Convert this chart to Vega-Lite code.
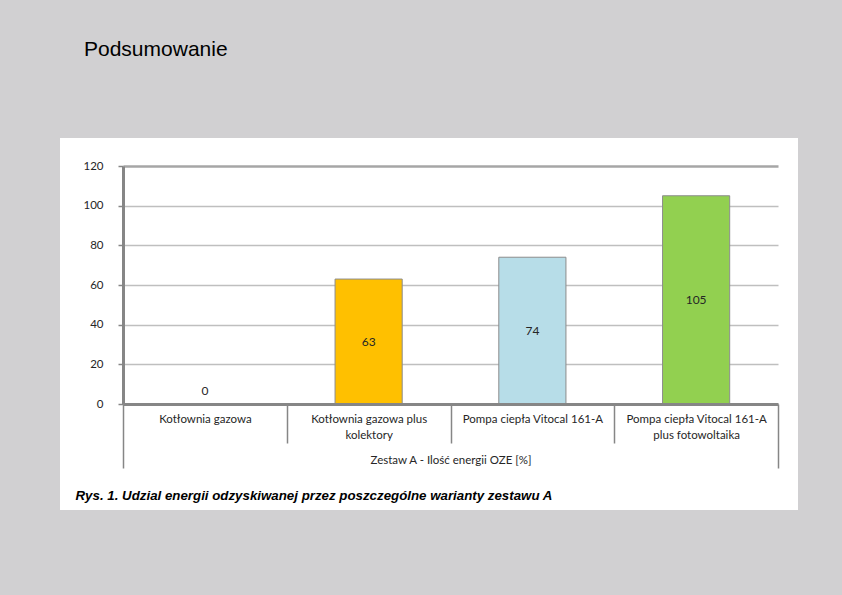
{
  "$schema": "https://vega.github.io/schema/vega-lite/v6.json",
  "width": 738,
  "height": 372,
  "autosize": {"type": "none"},
  "padding": {"left": 60, "top": 138, "right": 44, "bottom": 85},
  "background": "#D1D0D2",
  "config": {"view": {"fill": "white", "stroke": null}, "font": "Lato"},
  "title": {
    "text": "Podsumowanie",
    "anchor": "start",
    "frame": "group",
    "orient": "top",
    "offset": 61,
    "dx": 24,
    "font": "Liberation Sans",
    "fontSize": 21,
    "fontWeight": "normal",
    "color": "#000000",
    "baseline": "alphabetic"
  },
  "data": {
    "values": [
      {"category": "Kotłownia gazowa", "value": 0},
      {"category": "Kotłownia gazowa plus kolektory", "value": 63},
      {"category": "Pompa ciepła Vitocal 161-A", "value": 74},
      {"category": "Pompa ciepła Vitocal 161-A plus fotowoltaika", "value": 105}
    ]
  },
  "encoding": {
    "x": {
      "field": "category",
      "type": "nominal",
      "sort": null,
      "scale": {
        "domain": ["Kotłownia gazowa", "Kotłownia gazowa plus kolektory", "Pompa ciepła Vitocal 161-A", "Pompa ciepła Vitocal 161-A plus fotowoltaika"],
        "range": [63, 718],
        "paddingInner": 0,
        "paddingOuter": 0
      },
      "axis": {
        "orient": "bottom",
        "offset": -106,
        "zindex": 1,
        "grid": false,
        "tickBand": "extent",
        "domainColor": "#868686",
        "domainWidth": 3,
        "tickColor": "#868686",
        "tickWidth": 1.5,
        "tickSize": {"condition": {"test": "datum.extra || datum.value === 'Pompa ciepła Vitocal 161-A plus fotowoltaika'", "value": 64}, "value": 39},
        "labelPadding": {"condition": {"test": "datum.value === 'Pompa ciepła Vitocal 161-A plus fotowoltaika'", "value": -55}, "value": -30},
        "labelAngle": 0,
        "labelBaseline": "top",
        "labelFont": "Lato",
        "labelFontSize": 11.5,
        "labelColor": "#262626",
        "labelLineHeight": 16,
        "labelLimit": 200,
        "labelExpr": "datum.label === 'Kotłownia gazowa plus kolektory' ? ['Kotłownia gazowa plus', 'kolektory'] : datum.label === 'Pompa ciepła Vitocal 161-A plus fotowoltaika' ? ['Pompa ciepła Vitocal 161-A', 'plus fotowoltaika'] : datum.label",
        "title": "Zestaw A - Ilość energii OZE [%]",
        "titleY": 56,
        "titleBaseline": "middle",
        "titleFont": "Lato",
        "titleFontSize": 11.5,
        "titleFontWeight": "normal",
        "titleColor": "#262626"
      }
    }
  },
  "resolve": {"scale": {"y": "independent"}, "axis": {"y": "independent"}},
  "layer": [
    {
      "mark": {"type": "bar", "width": {"band": 0.41}, "stroke": "#8C8C8C", "strokeWidth": 1},
      "encoding": {
        "y": {
          "field": "value",
          "type": "quantitative",
          "scale": {"domain": [0, 120], "range": [266, 28], "nice": false, "zero": true},
          "axis": {
            "orient": "left",
            "offset": -63,
            "values": [0, 20, 40, 60, 80, 100, 120],
            "grid": true,
            "gridColor": {"condition": {"test": "datum.value === 120", "value": "#A6A6A6"}, "value": "#BFBFBF"},
            "gridWidth": {"condition": {"test": "datum.value === 120", "value": 2.5}, "value": 1.5},
            "domainColor": "#868686",
            "domainWidth": 3,
            "tickColor": "#868686",
            "tickSize": 5,
            "tickWidth": 1.5,
            "labelPadding": 15,
            "labelFont": "Lato",
            "labelFontSize": 11.5,
            "labelColor": "#262626",
            "title": "Rys. 1. Udzial energii odzyskiwanej przez poszczególne warianty zestawu A",
            "titleAngle": 0,
            "titleAlign": "left",
            "titleBaseline": "middle",
            "titleX": -48,
            "titleY": 357,
            "titleFont": "Liberation Sans",
            "titleFontSize": 13.3,
            "titleFontStyle": "italic",
            "titleFontWeight": "bold",
            "titleColor": "#000000"
          }
        },
        "fill": {
          "field": "category",
          "type": "nominal",
          "scale": {
            "domain": ["Kotłownia gazowa", "Kotłownia gazowa plus kolektory", "Pompa ciepła Vitocal 161-A", "Pompa ciepła Vitocal 161-A plus fotowoltaika"],
            "range": ["#4F81BD", "#FFC000", "#B7DDE8", "#92D050"]
          },
          "legend": null
        }
      }
    },
    {
      "transform": [{"filter": "datum.value > 0"}],
      "mark": {"type": "text", "font": "Lato", "fontSize": 12, "color": "#262626", "baseline": "middle"},
      "encoding": {
        "y": {"field": "value", "type": "quantitative", "scale": {"domain": [0, 120], "range": [266, 147], "nice": false, "zero": true}, "axis": null},
        "text": {"field": "value", "type": "quantitative"}
      }
    },
    {
      "transform": [{"filter": "datum.value === 0"}],
      "mark": {"type": "text", "font": "Lato", "fontSize": 12, "color": "#262626", "baseline": "middle", "dy": -13},
      "encoding": {
        "y": {"field": "value", "type": "quantitative", "scale": {"domain": [0, 120], "range": [266, 28], "nice": false, "zero": true}, "axis": null},
        "text": {"field": "value", "type": "quantitative"}
      }
    }
  ]
}
